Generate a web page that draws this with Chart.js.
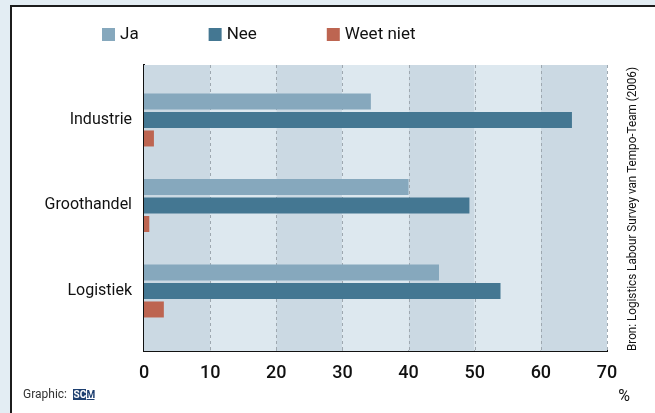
<!DOCTYPE html>
<html>
<head>
<meta charset="utf-8">
<script src="https://cdn.jsdelivr.net/npm/chart.js@4.4.1/dist/chart.umd.min.js"></script>
<style>
  html, body { margin: 0; padding: 0; background: #e3edf3; overflow: hidden; }
  #panel {
    position: absolute; left: 10px; top: 5px;
    width: 643px; height: 408px;
    background: #ffffff;
    border-left: 2px solid #1c1c1c;
    border-top: 2px solid #1c1c1c;
  }
  #chartBox { position: relative; width: 643px; height: 406px; }
</style>
</head>
<body>
<div id="panel">
  <div id="chartBox"><canvas id="surveyChart"></canvas></div>
</div>
<script>
const categories = ['Industrie', 'Groothandel', 'Logistiek'];
const seriesNames = ['Ja', 'Nee', 'Weet niet'];
const jaData = [34.3, 40.0, 44.6];
const neeData = [64.7, 49.2, 53.9];
const weetNietData = [1.5, 0.8, 3.0];
const xTicks = [0, 10, 20, 30, 40, 50, 60, 70];
const sourceText = 'Bron: Logistics Labour Survey van Tempo-Team (2006)';

const colors = ['#86a8bd', '#447792', '#bd6551'];
const FONT = 'Roboto, "Liberation Sans", sans-serif';

function toPoints(arr) {
    return arr.map((v, i) => ({ x: v, y: i }));
}

// alternating column bands behind the bars
const bandPlugin = {
    id: 'bands',
    beforeDatasetsDraw(chart) {
        const { ctx, chartArea, scales } = chart;
        const x = scales.x;
        ctx.save();
        for (let i = 0; i < xTicks.length - 1; i++) {
            const x0 = x.getPixelForValue(xTicks[i]);
            const x1 = x.getPixelForValue(xTicks[i + 1]);
            ctx.fillStyle = i % 2 === 0 ? '#cbd9e3' : '#dde8ef';
            ctx.fillRect(x0, chartArea.top, x1 - x0, chartArea.bottom - chartArea.top);
        }
        // dashed grid lines
        ctx.strokeStyle = '#9ea8b0';
        ctx.lineWidth = 1;
        ctx.setLineDash([3, 3]);
        for (let i = 1; i < xTicks.length; i++) {
            const px = Math.round(x.getPixelForValue(xTicks[i])) + 0.5;
            ctx.beginPath();
            ctx.moveTo(px, chartArea.top);
            ctx.lineTo(px, chartArea.bottom);
            ctx.stroke();
        }
        ctx.restore();
    }
};

// legend, source note and footer texts
const extrasPlugin = {
    id: 'extras',
    afterDraw(chart) {
        const ctx = chart.ctx;
        ctx.save();

        // legend
        ctx.font = '17px ' + FONT;
        ctx.textBaseline = 'middle';
        ctx.textAlign = 'left';
        let lx = 90;
        const ly = 21;
        chart.data.datasets.forEach((ds) => {
            ctx.fillStyle = ds.backgroundColor;
            ctx.fillRect(lx, ly, 13, 13);
            ctx.fillStyle = '#111111';
            ctx.fillText(ds.label, lx + 18, ly + 7);
            lx += 18 + ctx.measureText(ds.label).width + 70;
        });

        // rotated source
        ctx.font = '12px ' + FONT;
        ctx.fillStyle = '#111111';
        ctx.translate(621, 202);
        ctx.rotate(-Math.PI / 2);
        ctx.textAlign = 'center';
        ctx.fillText(sourceText, 0, 0, 284);
        ctx.setTransform(1, 0, 0, 1, 0, 0);

        // percent sign
        ctx.font = '16px ' + FONT;
        ctx.textAlign = 'center';
        ctx.fillText('%', 612, 390);

        // Graphic: SCM
        ctx.font = '12px ' + FONT;
        ctx.textAlign = 'left';
        ctx.fillStyle = '#333333';
        ctx.fillText('Graphic:', 11, 388);
        ctx.fillStyle = '#1d3f70';
        ctx.fillRect(61, 382, 13, 11);
        ctx.font = 'bold 10px ' + FONT;
        ctx.fillStyle = '#ffffff';
        ctx.fillText('SC', 61.5, 388);
        ctx.fillStyle = '#1d3f70';
        ctx.fillText('M', 74.5, 388);
        ctx.fillRect(74.5, 392, 8, 1);

        ctx.restore();
    }
};

document.addEventListener("DOMContentLoaded", function() {
    const ctx = document.getElementById('surveyChart').getContext('2d');
    const seriesData = [jaData, neeData, weetNietData];

    const surveyChart = new Chart(ctx, {
        type: 'bar',
        data: {
            datasets: seriesNames.map((name, i) => ({
                label: name,
                data: toPoints(seriesData[i]),
                backgroundColor: colors[i],
                borderWidth: 0,
                categoryPercentage: 0.649,
                barPercentage: 0.865
            }))
        },
        options: {
            indexAxis: 'y',
            responsive: true,
            maintainAspectRatio: false,
            animation: false,
            layout: {
                padding: { top: 58, right: 48, left: 0, bottom: 0 }
            },
            scales: {
                x: {
                    type: 'linear',
                    position: 'bottom',
                    min: 0,
                    max: 70,
                    ticks: {
                        stepSize: 10,
                        padding: 12,
                        color: '#111111',
                        font: { family: FONT, size: 18, weight: '500' }
                    },
                    grid: { display: false, drawTicks: false },
                    border: { display: true, color: '#111111', width: 2 },
                    afterFit(scale) { scale.height = 62; }
                },
                y: {
                    type: 'linear',
                    reverse: true,
                    offset: false,
                    bounds: 'data',
                    min: -0.643,
                    max: 2.702,
                    afterBuildTicks(scale) {
                        scale.ticks = categories.map((c, i) => ({ value: i }));
                    },
                    ticks: {
                        padding: 12,
                        color: '#111111',
                        font: { family: FONT, size: 16 },
                        callback: (value) => categories[value]
                    },
                    grid: { display: false, drawTicks: false, offset: false },
                    border: { display: true, color: '#111111', width: 2 },
                    afterFit(scale) { scale.width = 132; }
                }
            },
            plugins: {
                legend: { display: false },
                title: { display: false },
                tooltip: { enabled: false }
            }
        },
        plugins: [bandPlugin, extrasPlugin]
    });
});
</script>
</body>
</html>
